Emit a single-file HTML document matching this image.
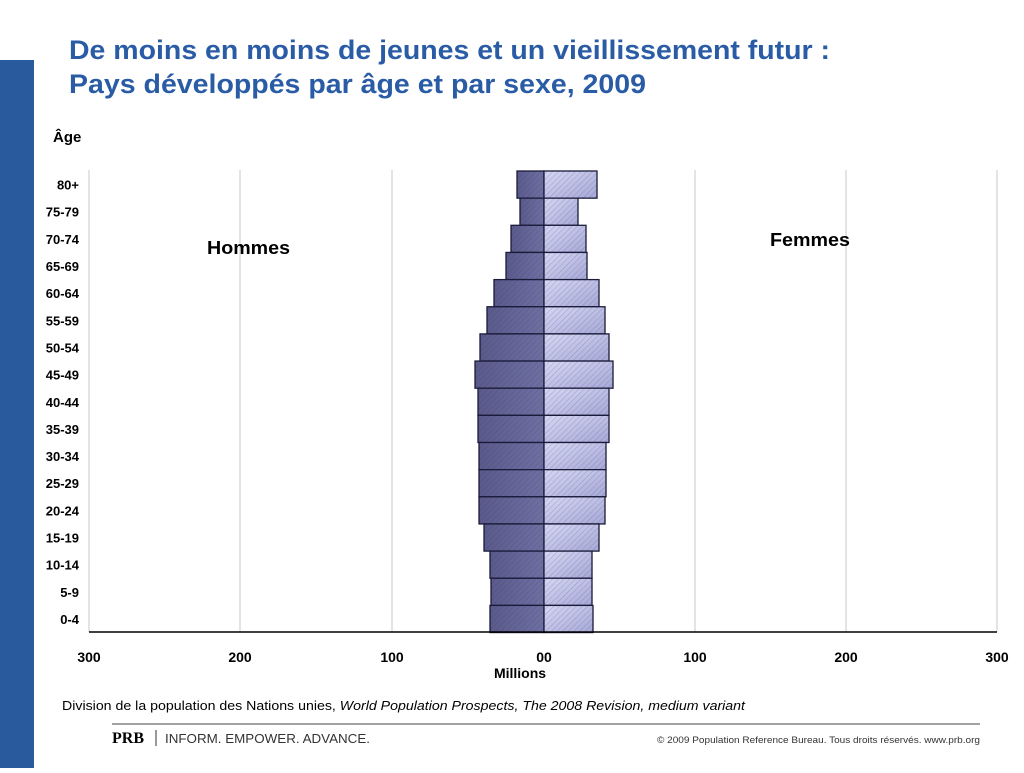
<!DOCTYPE html>
<html><head><meta charset="utf-8"><style>
body{margin:0;width:1024px;height:768px;background:#fff;overflow:hidden;font-family:"Liberation Sans",sans-serif;}
</style></head><body>
<svg width="1024" height="768" xmlns="http://www.w3.org/2000/svg" font-family="Liberation Sans, sans-serif">
<defs>
<linearGradient id="gm" x1="0" y1="0" x2="1" y2="0"><stop offset="0" stop-color="#5a5a8c"/><stop offset="1" stop-color="#6e70a4"/></linearGradient>
<linearGradient id="gf" x1="0" y1="0" x2="1" y2="1"><stop offset="0" stop-color="#d6d8f6"/><stop offset="1" stop-color="#a6a8d8"/></linearGradient>
<pattern id="hat" width="4" height="4" patternUnits="userSpaceOnUse" patternTransform="rotate(45)"><line x1="0" y1="0" x2="0" y2="4" stroke="#333" stroke-width="0.8" opacity="0.35"/></pattern>
</defs>
<rect x="0" y="60" width="34" height="708" fill="#2a5a9e"/>
<text x="69" y="59" font-size="27" font-weight="bold" fill="#2a5ca6" textLength="761" lengthAdjust="spacingAndGlyphs">De moins en moins de jeunes et un vieillissement futur :</text>
<text x="69" y="93" font-size="27" font-weight="bold" fill="#2a5ca6" textLength="577" lengthAdjust="spacingAndGlyphs">Pays développés par âge et par sexe, 2009</text>
<text x="53" y="142" font-size="15" font-weight="bold">Âge</text>
<g stroke="#c8c8c8" stroke-width="1">
<line x1="89" y1="170" x2="89" y2="632"/><line x1="240" y1="170" x2="240" y2="632"/><line x1="392" y1="170" x2="392" y2="632"/><line x1="695" y1="170" x2="695" y2="632"/><line x1="846" y1="170" x2="846" y2="632"/><line x1="997" y1="170" x2="997" y2="632"/>
</g>
<g id="bars" stroke="#1a1a3a" stroke-width="1.3"></g>
<line x1="89" y1="632" x2="997" y2="632" stroke="#000" stroke-width="1.5"/>
<g font-size="13" font-weight="bold" text-anchor="end" id="ages"></g>
<g font-size="14" font-weight="bold" text-anchor="middle">
<text x="89" y="662">300</text><text x="240" y="662">200</text><text x="392" y="662">100</text><text x="544" y="662">00</text><text x="695" y="662">100</text><text x="846" y="662">200</text><text x="997" y="662">300</text>
<text x="520" y="678">Millions</text>
</g>
<text x="207" y="254" font-size="18" font-weight="bold" textLength="83" lengthAdjust="spacingAndGlyphs">Hommes</text>
<text x="770" y="246" font-size="18" font-weight="bold" textLength="80" lengthAdjust="spacingAndGlyphs">Femmes</text>
<text x="62" y="710" font-size="13" textLength="683" lengthAdjust="spacingAndGlyphs">Division de la population des Nations unies, <tspan font-style="italic">World Population Prospects, The 2008 Revision, medium variant</tspan></text>
<line x1="112" y1="724" x2="980" y2="724" stroke="#444" stroke-width="1"/>
<text x="112" y="743" font-size="16" font-weight="bold" font-family="Liberation Serif, serif">PRB</text>
<line x1="156" y1="730" x2="156" y2="746" stroke="#333"/>
<text x="165" y="743" font-size="13" fill="#333" textLength="205" lengthAdjust="spacingAndGlyphs">INFORM. EMPOWER. ADVANCE.</text>
<text x="980" y="743" font-size="9.5" text-anchor="end" fill="#333" textLength="323" lengthAdjust="spacingAndGlyphs">© 2009 Population Reference Bureau. Tous droits réservés. www.prb.org</text>
</svg>
<script>
var d=[["80+",517,597],["75-79",520,578],["70-74",511,586],["65-69",506,587],["60-64",494,599],["55-59",487,605],["50-54",480,609],["45-49",475,613],["40-44",478,609],["35-39",478,609],["30-34",479,606],["25-29",479,606],["20-24",479,605],["15-19",484,599],["10-14",490,592],["5-9",491,592],["0-4",490,593]];
var ns="http://www.w3.org/2000/svg",b=document.getElementById("bars"),a=document.getElementById("ages"),h=27.15;
d.forEach(function(r,i){var y=171+i*h;
function rc(x,w,f){var e=document.createElementNS(ns,"rect");e.setAttribute("x",x);e.setAttribute("y",y);e.setAttribute("width",w);e.setAttribute("height",h);e.setAttribute("fill",f);b.appendChild(e);
var e2=document.createElementNS(ns,"rect");e2.setAttribute("x",x);e2.setAttribute("y",y);e2.setAttribute("width",w);e2.setAttribute("height",h);e2.setAttribute("fill","url(#hat)");e2.setAttribute("stroke","none");b.appendChild(e2);}
rc(r[1],544-r[1],"url(#gm)");rc(544,r[2]-544,"url(#gf)");
var t=document.createElementNS(ns,"text");t.setAttribute("x",79);t.setAttribute("y",y+h/2+5);t.textContent=r[0];a.appendChild(t);});
</script>
</body></html>
